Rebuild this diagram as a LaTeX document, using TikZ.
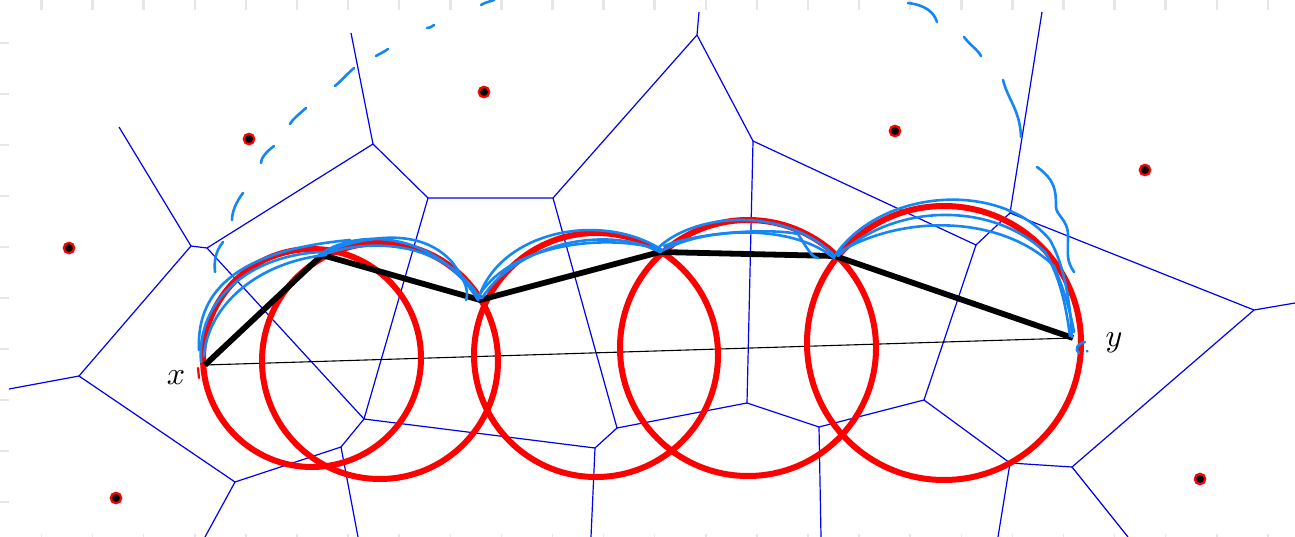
\documentclass[tikz,border=0pt]{standalone}
\usepackage{graphicx}
\usepackage{tikz}
\usetikzlibrary{positioning}
\definecolor{vorblue}{HTML}{0000F0}
\definecolor{penblue}{HTML}{1487F5}
\definecolor{rulegrey}{HTML}{E6E6E6}
\newcommand{\biglbl}[1]{\scalebox{3.2}{$#1$}}

\begin{document}
\begin{tikzpicture}[
  x=1pt,y=-1pt,
  site/.style={circle,fill=black,draw=red,line width=2.2pt,inner sep=0pt,minimum size=10.5pt},
  vor/.style={draw=vorblue,line width=1.2pt},
  disk/.style={draw=red,line width=6pt},
  route/.style={draw=black,line width=5.8pt,line join=round},
  chord/.style={draw=black,line width=1.1pt},
  pen/.style={draw=penblue,line width=2.6pt,line cap=round,line join=round},
  tick/.style={draw=rulegrey,line width=2.5pt},
  lbl/.style={inner sep=0pt}]
\useasboundingbox (0,0) rectangle (1295,537);

% ruler ticks
\foreach \i in {0,...,24} {
  \draw[tick] ({41.5+51.1*\i},0) -- ++(0,10);
  \draw[tick,line width=1.5pt] ({41.5+51.1*\i},534) -- ++(0,3);
}
\foreach \j in {0,...,9}
  \draw[tick] (0,{43+51*\j}) -- ++(9,0);

% voronoi vertices
\coordinate (va) at (119,127);
\coordinate (vb) at (191,246);
\coordinate (vc) at (207,248);
\coordinate (vd) at (373,144);
\coordinate (ve) at (351,33);
\coordinate (vf) at (428,198);
\coordinate (vg) at (553,198);
\coordinate (vh) at (697,35);
\coordinate (vh2) at (699,12);
\coordinate (vi) at (753,141);
\coordinate (vj) at (976,245);
\coordinate (vk) at (1010,213);
\coordinate (vk2) at (1042,12);
\coordinate (vl) at (1254,310);
\coordinate (vl2) at (1295,303);
\coordinate (vm) at (924,400);
\coordinate (vn) at (1010,463);
\coordinate (vn2) at (998,537);
\coordinate (vo) at (1072,467);
\coordinate (vo2) at (1128,537);
\coordinate (vp) at (819,427);
\coordinate (vp2) at (821,537);
\coordinate (vq) at (747,403);
\coordinate (vr) at (617,428);
\coordinate (vs) at (595,448);
\coordinate (vs2) at (591,537);
\coordinate (vt) at (364,419);
\coordinate (vu) at (341,447);
\coordinate (vu2) at (358,537);
\coordinate (vv) at (235,482);
\coordinate (vv2) at (205,537);
\coordinate (vw) at (79,376);
\coordinate (vw2) at (9,389);

\draw[vor] (va) -- (vb) -- (vc) -- (vd) -- (ve);
\draw[vor] (vd) -- (vf) -- (vg) -- (vh) -- (vh2);
\draw[vor] (vh) -- (vi) -- (vj) -- (vk) -- (vk2);
\draw[vor] (vk) -- (vl) -- (vl2);
\draw[vor] (vl) -- (vo) -- (vo2);
\draw[vor] (vj) -- (vm) -- (vn) -- (vo);
\draw[vor] (vn) -- (vn2);
\draw[vor] (vm) -- (vp) -- (vp2);
\draw[vor] (vi) -- (vq) -- (vp);
\draw[vor] (vq) -- (vr) -- (vg);
\draw[vor] (vr) -- (vs) -- (vs2);
\draw[vor] (vs) -- (vt) -- (vf);
\draw[vor] (vc) -- (vt) -- (vu) -- (vu2);
\draw[vor] (vu) -- (vv) -- (vv2);
\draw[vor] (vv) -- (vw) -- (vw2);
\draw[vor] (vw) -- (vb);

% sites
\node[site] (s1) at (69,248) {};
\node[site] (s2) at (249,139) {};
\node[site] (s3) at (484,92) {};
\node[site] (s4) at (895,131) {};
\node[site] (s5) at (1145,170) {};
\node[site] (s6) at (116,498) {};
\node[site] (s7) at (1200,479) {};

% path points
\coordinate (px) at (205,365);
\coordinate (p1) at (322,255);
\coordinate (p2) at (480,300);
\coordinate (p3) at (660,252);
\coordinate (p4) at (835,256);
\coordinate (py) at (1073,338);

\draw[chord] (px) -- (py);

\draw[disk] (312,358) circle[radius=109];
\draw[disk] (380,361) circle[radius=118];
\draw[disk] (596,355) circle[radius=122];
\draw[disk] (748,348) circle[radius=128];
\draw[disk] (944,343) circle[radius=137];

\draw[route] (px) -- (p1) -- (p2) -- (p3) -- (p4) -- (py);

\node[lbl] (xl) at (176,378) {\biglbl{x}};
\node[lbl] (yl) at (1114,343) {\biglbl{y}};

% hand strokes
\draw[pen] (201,362) .. controls (196,300) and (250,255) .. (322,252);
\draw[pen] (204,356) .. controls (208,305) and (258,262) .. (326,255);
\draw[pen] (199,350) .. controls (196,288) and (242,250) .. (350,240);
\draw[pen] (318,256) .. controls (350,230) and (432,226) .. (478,300);
\draw[pen] (322,255) .. controls (362,240) and (440,236) .. (480,298);
\draw[pen] (330,250) .. controls (380,232) and (425,232) .. (452,262) .. controls (462,275) and (470,290) .. (466,300);
\draw[pen] (478,300) .. controls (498,232) and (600,210) .. (662,250);
\draw[pen] (482,298) .. controls (520,240) and (610,226) .. (660,252);
\draw[pen] (480,294) .. controls (512,245) and (600,234) .. (655,248);
\draw[pen] (656,250) .. controls (690,214) and (782,204) .. (835,256);
\draw[pen] (660,252) .. controls (700,228) and (790,222) .. (834,258);
\draw[pen] (664,246) .. controls (700,232) and (770,228) .. (798,234) .. controls (805,245) and (812,258) .. (818,258);
\draw[pen] (834,257) .. controls (880,188) and (1000,180) .. (1050,240) .. controls (1064,265) and (1070,300) .. (1072,337);
\draw[pen] (838,256) .. controls (892,204) and (990,200) .. (1045,252) .. controls (1060,277) and (1066,306) .. (1070,336);
\draw[pen] (836,254) .. controls (900,214) and (1000,214) .. (1054,266) .. controls (1064,290) and (1070,310) .. (1074,332);
\draw[pen] (1085,342) .. controls (1076,344) and (1075,350) .. (1079,353);
\draw[pen] (1087,351) -- (1087.5,351.5);
\draw[red,line width=2.2pt,line cap=round] (198,368) -- (199,378);

% dashed outer curve
\draw[pen] (223,242) .. controls (215,252) and (214,262) .. (215,272);
\draw[pen] (243,193) .. controls (236,202) and (232,212) .. (232,220);
\draw[pen] (274,146) .. controls (266,152) and (261,158) .. (261,163);
\draw[pen] (306,108) .. controls (298,115) and (292,120) .. (290,124);
\draw[pen] (354,68) .. controls (345,76) and (340,82) .. (335,86);
\draw[pen] (388,49) .. controls (384,52) and (379,54) .. (376,56);
\draw[pen] (434,25) .. controls (432,27) and (429,28) .. (427,28);
\draw[pen] (494,0) .. controls (488,2) and (484,3) .. (481,5);
\draw[pen] (908,3) .. controls (925,5) and (934,12) .. (937,22);
\draw[pen] (964,37) .. controls (970,45) and (978,50) .. (981,56);
\draw[pen] (1003,80) .. controls (1008,100) and (1020,110) .. (1021,137);
\draw[pen] (1037,167) .. controls (1055,180) and (1056,190) .. (1056,207) .. controls (1056,215) and (1068,220) .. (1068,235) .. controls (1068,255) and (1066,260) .. (1074,272);
\end{tikzpicture}
\end{document}
